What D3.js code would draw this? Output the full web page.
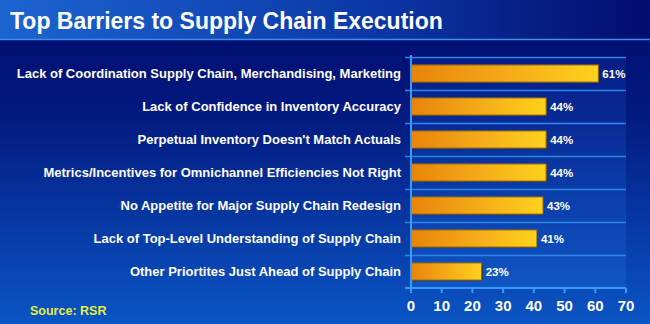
<!DOCTYPE html>
<html>
<head>
<meta charset="utf-8">
<script src="https://cdn.jsdelivr.net/npm/d3@7"></script>
<style>
  body { margin: 0; background: #021070; }
  svg { display: block; font-family: "Liberation Sans", Arial, sans-serif; font-weight: bold; }
</style>
</head>
<body>
<svg id="chart" width="650" height="324"></svg>
<script>
const categories = [
  "Lack of Coordination Supply Chain, Merchandising, Marketing",
  "Lack of Confidence in Inventory Accuracy",
  "Perpetual Inventory Doesn't Match Actuals",
  "Metrics/Incentives for Omnichannel Efficiencies Not Right",
  "No Appetite for Major Supply Chain Redesign",
  "Lack of Top-Level Understanding of Supply Chain",
  "Other Priortites Just Ahead of Supply Chain"
];
const values = [61, 44, 44, 44, 43, 41, 23];
const xTicks = [0, 10, 20, 30, 40, 50, 60, 70];

const W = 650, H = 324;
const svg = d3.select("#chart");
const defs = svg.append("defs");

// background gradient: navy at top to brighter blue at bottom
const bg = defs.append("linearGradient").attr("id", "bg").attr("x1", 0).attr("y1", 0).attr("x2", 0).attr("y2", 1);
bg.append("stop").attr("offset", "0%").attr("stop-color", "#010a6c");
bg.append("stop").attr("offset", "35%").attr("stop-color", "#031a80");
bg.append("stop").attr("offset", "100%").attr("stop-color", "#0a55c4");
svg.append("rect").attr("width", W).attr("height", H).attr("fill", "url(#bg)");

// title bar
const tb = defs.append("linearGradient").attr("id", "tb").attr("x1", 0).attr("y1", 0).attr("x2", 1).attr("y2", 0);
tb.append("stop").attr("offset", "0%").attr("stop-color", "#1c64d0");
tb.append("stop").attr("offset", "55%").attr("stop-color", "#0c3aa8");
tb.append("stop").attr("offset", "100%").attr("stop-color", "#020c6e");
svg.append("rect").attr("width", W).attr("height", 39).attr("fill", "url(#tb)");
svg.append("line").attr("x1", 0).attr("x2", W).attr("y1", 39.5).attr("y2", 39.5)
  .attr("stroke", "#3f8ff0").attr("stroke-width", 1.5);
svg.append("text").attr("x", 10).attr("y", 29).attr("fill", "#fff")
  .attr("font-size", 23).text("Top Barriers to Supply Chain Execution");

// bar gradient
const bar = defs.append("linearGradient").attr("id", "bar").attr("x1", 0).attr("y1", 0).attr("x2", 1).attr("y2", 0);
bar.append("stop").attr("offset", "0%").attr("stop-color", "#e8840a");
bar.append("stop").attr("offset", "50%").attr("stop-color", "#f4aa18");
bar.append("stop").attr("offset", "100%").attr("stop-color", "#ffd21c");

const x = d3.scaleLinear().domain([0, 70]).range([411, 626]);
const y = d3.scaleBand().domain(categories).range([57, 288]).paddingInner(0.48).paddingOuter(0.24);

// plot area tint
const pa = defs.append("linearGradient").attr("id", "pa").attr("x1", 0).attr("y1", 0).attr("x2", 0).attr("y2", 1);
pa.append("stop").attr("offset", "0%").attr("stop-color", "#0a2a98").attr("stop-opacity", 0.5);
pa.append("stop").attr("offset", "100%").attr("stop-color", "#1660d0").attr("stop-opacity", 0.5);
svg.append("rect").attr("x", x(0)).attr("y", 57).attr("width", x(70) - x(0)).attr("height", 231)
  .attr("fill", "url(#pa)");

// gridlines at band boundaries
const step = y.step();
const bounds = d3.range(categories.length).map(i => 57 + i * step);
svg.selectAll(".grid").data(bounds).enter().append("line")
  .attr("x1", x(0) - 6).attr("x2", x(70))
  .attr("y1", d => d + 0.5).attr("y2", d => d + 0.5)
  .attr("stroke", "#2f86e8").attr("stroke-width", 1.5);

// bars
svg.selectAll(".shadow").data(values).enter().append("rect")
  .attr("x", x(0) + 1).attr("y", (d, i) => y(categories[i]) + 1)
  .attr("width", d => x(d) - x(0)).attr("height", y.bandwidth())
  .attr("fill", "#3a2a30");
svg.selectAll(".bar").data(values).enter().append("rect")
  .attr("x", x(0)).attr("y", (d, i) => y(categories[i]))
  .attr("width", d => x(d) - x(0)).attr("height", y.bandwidth())
  .attr("fill", "url(#bar)").attr("stroke", "#8a6418").attr("stroke-width", 1);

// value labels
svg.selectAll(".val").data(values).enter().append("text")
  .attr("x", d => x(d) + 4).attr("y", (d, i) => y(categories[i]) + y.bandwidth() / 2 + 4)
  .attr("fill", "#fff").attr("font-size", 11.5).text(d => d + "%");

// category labels
svg.selectAll(".cat").data(categories).enter().append("text")
  .attr("x", 401).attr("y", d => y(d) + y.bandwidth() / 2 + 4.5)
  .attr("text-anchor", "end").attr("fill", "#fff").attr("font-size", 13).text(d => d);

// axes
svg.append("line").attr("x1", x(0)).attr("x2", x(0)).attr("y1", 55).attr("y2", 289)
  .attr("stroke", "#3a9af8").attr("stroke-width", 2);
svg.append("line").attr("x1", x(0) - 6).attr("x2", x(70)).attr("y1", 288).attr("y2", 288)
  .attr("stroke", "#3a9af8").attr("stroke-width", 2);
svg.selectAll(".xt").data(xTicks).enter().append("line")
  .attr("x1", d => x(d)).attr("x2", d => x(d)).attr("y1", 288).attr("y2", 293)
  .attr("stroke", "#3a9af8").attr("stroke-width", 2);
svg.selectAll(".xl").data(xTicks).enter().append("text")
  .attr("x", d => x(d)).attr("y", 311).attr("text-anchor", "middle")
  .attr("fill", "#fff").attr("font-size", 15).text(d => d);

// source
svg.append("text").attr("x", 30).attr("y", 315).attr("fill", "#e2f040")
  .attr("font-size", 12.5).text("Source: RSR");
</script>
</body>
</html>
